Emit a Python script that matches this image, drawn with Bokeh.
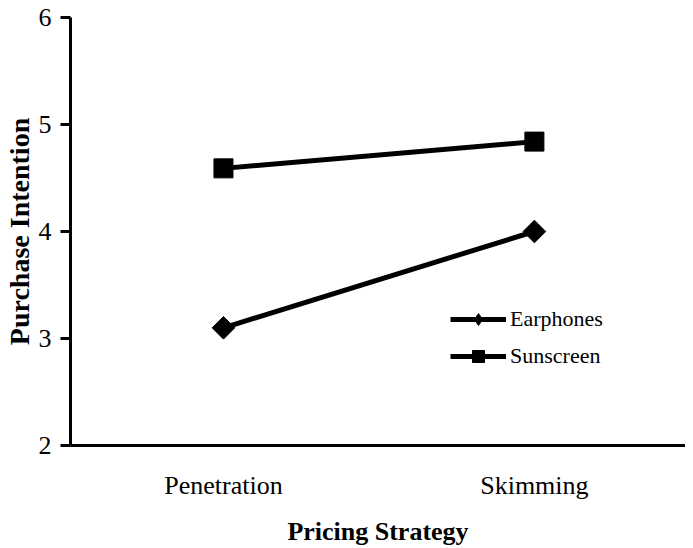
import math
from bokeh.plotting import figure
from bokeh.models import Range1d, FixedTicker, Legend, LegendItem
from bokeh.embed import file_html
from bokeh.resources import INLINE

categories = ["Penetration", "Skimming"]
earphones = [3.10, 4.00]
sunscreen = [4.59, 4.84]
y_ticks = [2, 3, 4, 5, 6]

xs = list(range(len(categories)))

p = figure(width=685, height=548, output_backend="svg", toolbar_location=None,
           x_range=Range1d(-0.492, 1.486), y_range=Range1d(2, 6),
           min_border_left=58, min_border_right=0, min_border_top=17, min_border_bottom=100)
p.outline_line_color = None
p.grid.visible = False
p.background_fill_color = "white"
p.border_fill_color = "white"

FONT = "Liberation Serif"

r1 = p.line(xs, earphones, line_width=5, line_color="black")
# small diamond hidden under the rotated square: gives the legend its diamond
r_leg = p.scatter(xs, earphones, marker="diamond", size=12,
                  fill_color="black", line_color="black")
r2 = p.scatter(xs, earphones, marker="square", size=16, angle=math.pi / 4,
               fill_color="black", line_color="black")
r3 = p.line(xs, sunscreen, line_width=5, line_color="black")
r4 = p.scatter(xs, sunscreen, marker="square", size=19,
               fill_color="black", line_color="black")

xa = p.xaxis[0]
xa.ticker = FixedTicker(ticks=xs)
xa.major_label_overrides = {i: c for i, c in enumerate(categories)}
xa.major_tick_line_color = None
xa.minor_tick_line_color = None
xa.axis_line_width = 3
xa.axis_line_color = "black"
xa.major_label_text_font = FONT
xa.major_label_text_font_size = "26px"
xa.major_label_text_color = "black"
xa.major_label_standoff = 19
xa.axis_label = "Pricing Strategy"
xa.axis_label_text_font = FONT
xa.axis_label_text_font_style = "bold"
xa.axis_label_text_font_size = "26px"
xa.axis_label_text_color = "black"
xa.axis_label_standoff = 14

ya = p.yaxis[0]
ya.ticker = FixedTicker(ticks=y_ticks)
ya.minor_tick_line_color = None
ya.major_tick_out = 10
ya.major_tick_in = 0
ya.major_tick_line_width = 3
ya.axis_line_width = 3
ya.axis_line_color = "black"
ya.major_label_text_font = FONT
ya.major_label_text_font_size = "26px"
ya.major_label_text_color = "black"
ya.major_label_standoff = 9
ya.axis_label = "Purchase Intention"
ya.axis_label_text_font = FONT
ya.axis_label_text_font_style = "bold"
ya.axis_label_text_font_size = "28px"
ya.axis_label_text_color = "black"
ya.axis_label_standoff = 1

legend = Legend(items=[LegendItem(label="Earphones", renderers=[r1, r_leg]),
                       LegendItem(label="Sunscreen", renderers=[r3, r4])],
                location=(380, 74), padding=0, margin=0, spacing=7,
                glyph_width=56, glyph_height=30, label_standoff=4,
                label_text_font=FONT, label_text_font_size="22px",
                label_text_color="black",
                border_line_color=None, background_fill_alpha=0)
p.add_layout(legend)

open("out.html", "w").write(file_html(p, INLINE))
